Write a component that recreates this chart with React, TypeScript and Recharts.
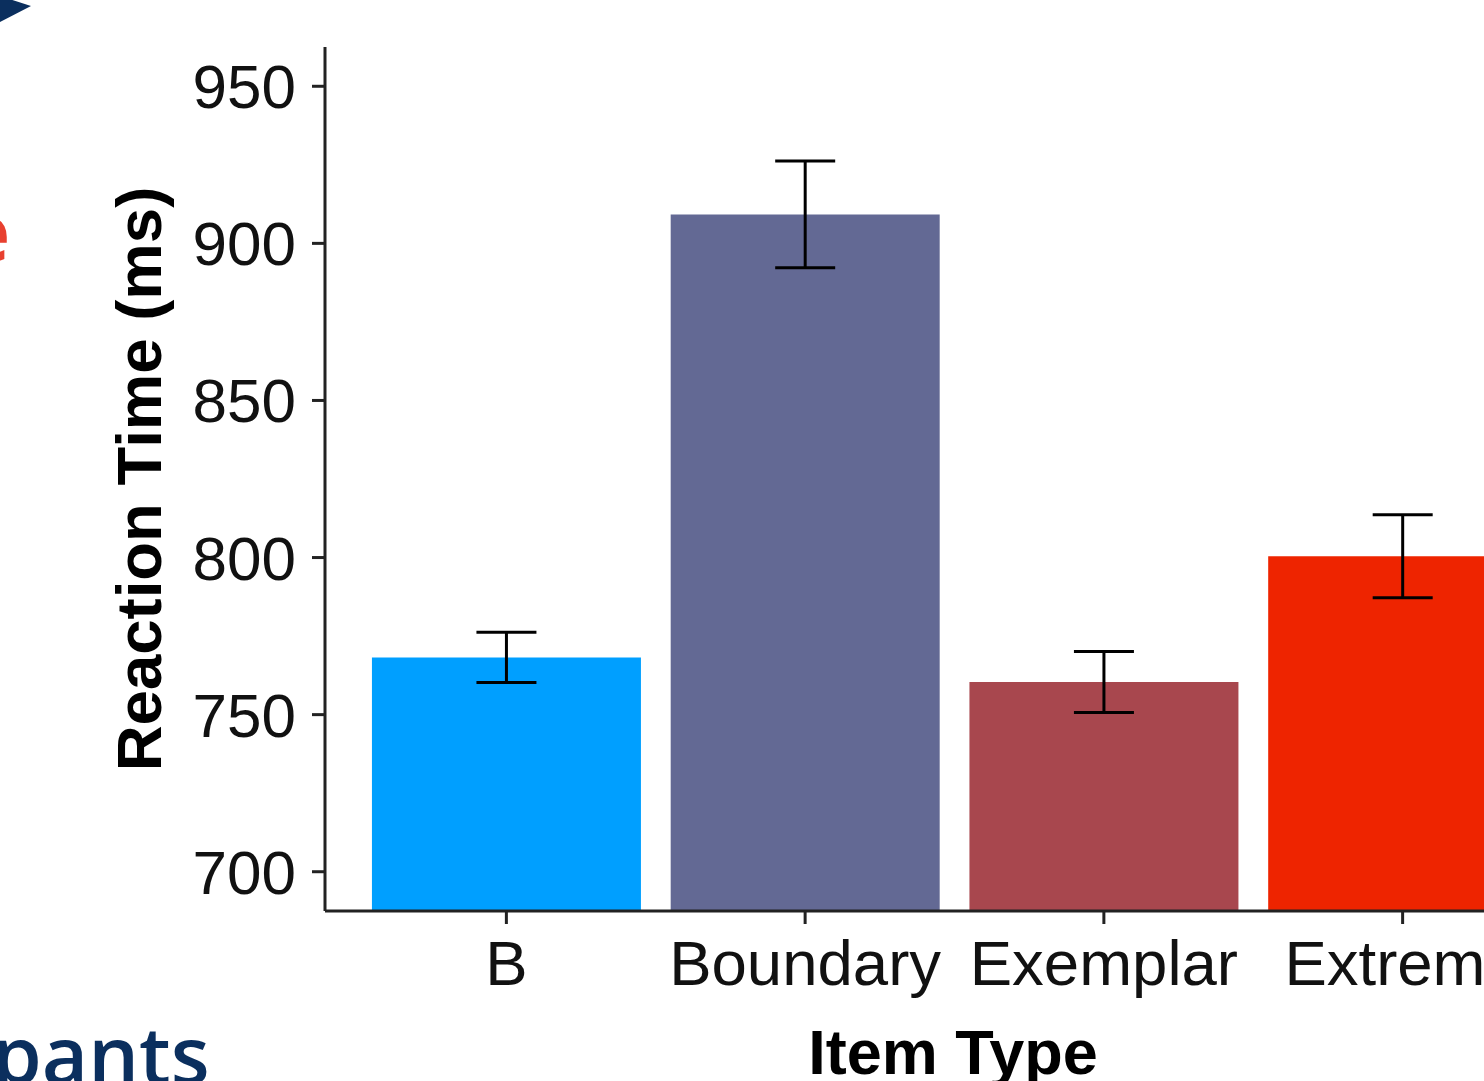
import React from 'react';
import { BarChart, Bar, XAxis, YAxis, ErrorBar, Cell } from 'recharts';

// values
const itemTypes = ['B', 'Boundary', 'Exemplar', 'Extreme'];
const meanRT = [768.2, 909.2, 760.4, 800.4];
const seRT = [8.0, 17.0, 9.7, 13.2];
const barColors = ['#009FFF', '#636994', '#A8474E', '#EE2400'];
const yTicks = [700, 750, 800, 850, 900, 950];

const data = itemTypes.map((name, i) => ({ name, rt: meanRT[i], se: seRT[i] }));

const FONT = '"Liberation Sans", Arial, Helvetica, sans-serif';
const NAVY = '#0B2F5E';

function XTick(props: any) {
  const { x, y, payload } = props;
  return (
    <text x={x} y={y + 59} textAnchor="middle" fontSize={63.5} fontFamily={FONT} fill="#111">
      {payload.value}
    </text>
  );
}

function YTick(props: any) {
  const { x, y, payload } = props;
  return (
    <text x={x - 14} y={y + 22} textAnchor="end" fontSize={62} fontFamily={FONT} fill="#111">
      {payload.value}
    </text>
  );
}

export default function App() {
  return (
    <div style={{ position: 'fixed', top: 0, left: 0, width: 1484, height: 1081, overflow: 'hidden', background: '#fff' }}>
      <BarChart
        width={1600}
        height={1081}
        data={data}
        margin={{ top: 47, right: 21, left: 0, bottom: 0 }}
        barCategoryGap="5%"
      >
        <XAxis
          dataKey="name"
          height={170}
          padding={{ left: 32, right: 27 }}
          axisLine={{ stroke: '#222', strokeWidth: 3 }}
          tickLine={{ stroke: '#222', strokeWidth: 3 }}
          tickSize={13}
          tick={<XTick />}
          interval={0}
          label={(p: any) => (
            <text x={953} y={1074} textAnchor="middle" fontSize={63} fontWeight={700} fontFamily={FONT} fill="#000">
              Item Type
            </text>
          )}
        />
        <YAxis
          width={325}
          domain={[687.5, 962.5]}
          ticks={yTicks}
          allowDataOverflow
          axisLine={{ stroke: '#222', strokeWidth: 3 }}
          tickLine={{ stroke: '#222', strokeWidth: 3 }}
          tickSize={13}
          tick={<YTick />}
          label={(p: any) => (
            <text
              x={161}
              y={479}
              transform="rotate(-90, 161, 479)"
              textAnchor="middle"
              fontSize={63.5}
              fontWeight={700}
              fontFamily={FONT}
              fill="#000"
            >
              Reaction Time (ms)
            </text>
          )}
        />
        <Bar dataKey="rt" isAnimationActive={false}>
          {data.map((d, i) => (
            <Cell key={d.name} fill={barColors[i]} />
          ))}
          <ErrorBar dataKey="se" width={30} stroke="#000" strokeWidth={3} isAnimationActive={false} />
        </Bar>
      </BarChart>

      {/* bits of the surrounding slide */}
      <svg width={1484} height={1081} style={{ position: 'absolute', top: 0, left: 0, pointerEvents: 'none' }}>
        <polygon points="0,-4 31,6 0,22" fill={NAVY} />
        <text x={10} y={261} textAnchor="end" fontSize={78} fontWeight={700} fontFamily='"Open Sans", sans-serif' fill="#E8402F">
          e
        </text>
        <text x={1155} y={-15} fontSize={80} fontFamily='"Open Sans", sans-serif' fill={NAVY}>(</text>
        <text x={1272} y={-15} fontSize={80} fontFamily='"Open Sans", sans-serif' fill={NAVY}>)</text>
        <text x={-8} y={1084} fontSize={80} fontWeight={600} fontFamily='"Open Sans", sans-serif' fill={NAVY}>
          pants
        </text>
      </svg>
    </div>
  );
}
